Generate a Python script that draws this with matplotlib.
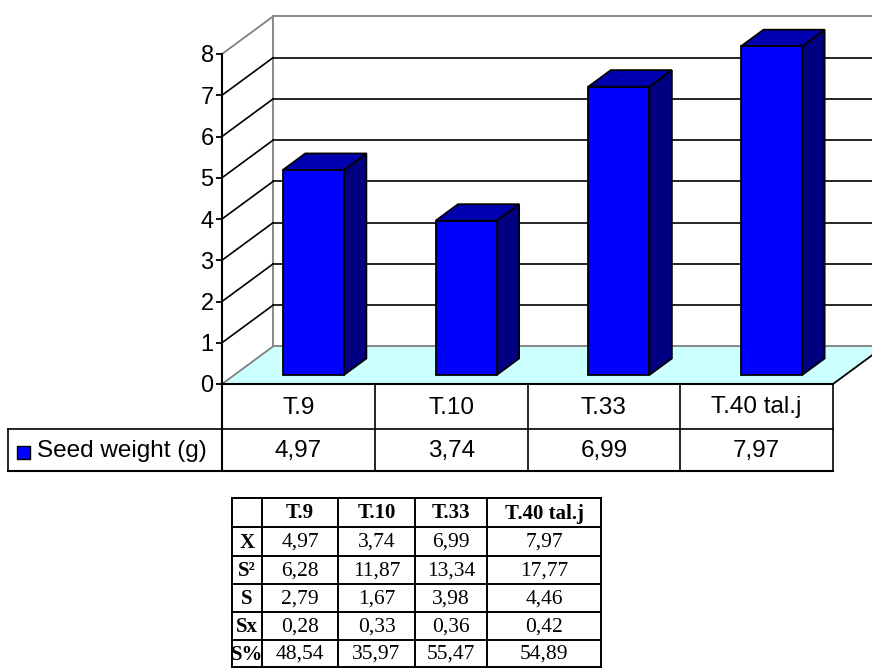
import matplotlib
matplotlib.use("Agg")
import matplotlib.pyplot as plt
from matplotlib.patches import Polygon, Rectangle

# --- data -------------------------------------------------------------
categories = ["T.9", "T.10", "T.33", "T.40 tal.j"]
seed_weight = [4.97, 3.74, 6.99, 7.97]
series_label = "Seed weight (g)"
y_ticks = [0, 1, 2, 3, 4, 5, 6, 7, 8]

stat_rows = ["X", "S²", "S", "Sx", "S%"]
stat_x = [4.97, 3.74, 6.99, 7.97]
stat_s2 = [6.28, 11.87, 13.34, 17.77]
stat_s = [2.79, 1.67, 3.98, 4.46]
stat_sx = [0.28, 0.33, 0.36, 0.42]
stat_spct = [48.54, 35.97, 55.47, 54.89]


def fmt(v):
    return f"{v:.2f}".replace(".", ",")


W, H = 872, 668
fig = plt.figure(figsize=(W / 100, H / 100), dpi=100)
fig.patch.set_facecolor("white")

SANS = "Liberation Sans"
SERIF = "Liberation Serif"
GRAY = "#808080"
FRONT = "#0000ff"
SIDE = "#000080"
TOP = "#0000b0"
SANS_SIZE = 17.5
HEAD_SIZE = 15
CELL_SIZE = 15.5

# front plane of the 3D chart, in pixels
px_left, px_right = 222, 833
px_zero, px_top = 384, 54
ax = fig.add_axes([px_left / W, 1 - px_zero / H,
                   (px_right - px_left) / W, (px_zero - px_top) / H])
ax.set_xlim(0, len(categories))
ax.set_ylim(0, 8)
ax.patch.set_visible(False)
for s in ["top", "right", "bottom"]:
    ax.spines[s].set_visible(False)
ax.spines["left"].set_linewidth(1.5)
ax.set_xticks([])
ax.set_yticks(y_ticks)
ax.set_yticklabels([str(t) for t in y_ticks], fontsize=17, family=SANS)
ax.tick_params(axis="y", direction="out", length=4, width=1.3, pad=2)

n = len(categories)
dxu, dyu = 0.334, 0.91      # depth offset of the back wall (data units)
f1, f2 = 0.24, 0.68         # bar depth range as fraction of floor depth
bx, bw = 0.318, 0.40        # bar offset and width inside a category

# floor
ax.add_patch(Polygon([(0, 0), (n, 0), (n + dxu, dyu), (dxu, dyu)],
                     closed=True, facecolor="#ccffff", edgecolor="none",
                     clip_on=False, zorder=1))
ax.plot([0, dxu], [0, dyu], color=GRAY, lw=1.3, clip_on=False, zorder=2)
ax.plot([dxu, n + dxu], [dyu, dyu], color=GRAY, lw=1.3, clip_on=False, zorder=2)
ax.plot([n, n + dxu], [0, dyu], color="black", lw=1.3, clip_on=False, zorder=2)
ax.plot([0, n], [0, 0], color="black", lw=1.5, clip_on=False, zorder=2)

# back wall and side wall gridlines
ax.plot([dxu, dxu], [dyu, 8 + dyu], color=GRAY, lw=1.3, clip_on=False, zorder=2)
ax.plot([dxu, n + dxu], [8 + dyu, 8 + dyu], color=GRAY, lw=1.3,
        clip_on=False, zorder=2)
ax.plot([0, dxu], [8, 8 + dyu], color=GRAY, lw=1.3, clip_on=False, zorder=2)
for v in y_ticks[1:-1]:
    ax.plot([dxu, n + dxu], [v + dyu, v + dyu], color="black", lw=1.2,
            clip_on=False, zorder=2)
    ax.plot([0, dxu], [v, v + dyu], color="black", lw=1.2,
            clip_on=False, zorder=2)

# bars
ddx, ddy = (f2 - f1) * dxu, (f2 - f1) * dyu
for i, v in enumerate(seed_weight):
    x0 = i + bx + f1 * dxu
    x1 = x0 + bw
    y0 = f1 * dyu
    y1 = y0 + v
    kw = dict(closed=True, edgecolor="black", lw=1.3, clip_on=False,
              joinstyle="miter", zorder=3)
    ax.add_patch(Polygon([(x1, y0), (x1 + ddx, y0 + ddy),
                          (x1 + ddx, y1 + ddy), (x1, y1)],
                         facecolor=SIDE, **kw))
    ax.add_patch(Polygon([(x0, y1), (x1, y1), (x1 + ddx, y1 + ddy),
                          (x0 + ddx, y1 + ddy)], facecolor=TOP, **kw))
    ax.add_patch(Polygon([(x0, y0), (x1, y0), (x1, y1), (x0, y1)],
                         facecolor=FRONT, **kw))

# overlay in pixel coordinates for the tables
ov = fig.add_axes([0, 0, 1, 1])
ov.set_xlim(0, W)
ov.set_ylim(H, 0)
ov.axis("off")
ov.patch.set_visible(False)

# data table under the chart
row1_top, row2_top, row2_bot = 384, 429, 471
col_w = (px_right - px_left) / n
lw_t = 1.5
ov.plot([px_left, px_left], [px_zero, row2_bot], color="black", lw=lw_t)
for i in range(1, n + 1):
    xx = px_left + i * col_w
    ov.plot([xx, xx], [row1_top, row2_bot], color="black", lw=1.2)
ov.plot([8, px_right], [row2_top, row2_top], color="black", lw=1.2)
ov.plot([8, px_right], [row2_bot, row2_bot], color="black", lw=lw_t)
ov.plot([8, 8], [row2_top, row2_bot], color="black", lw=1.2)
for i, (c, v) in enumerate(zip(categories, seed_weight)):
    cx = px_left + (i + 0.5) * col_w
    ov.text(cx, (row1_top + row2_top) / 2 + 1, c, ha="center", va="center",
            fontsize=SANS_SIZE, family=SANS)
    ov.text(cx, (row2_top + row2_bot) / 2 + 1, fmt(v), ha="center",
            va="center", fontsize=SANS_SIZE, family=SANS)
ov.add_patch(Rectangle((17, 446), 13, 13, facecolor=FRONT,
                       edgecolor="black", lw=1.0))
ov.text(37, (row2_top + row2_bot) / 2 + 1, series_label, ha="left",
        va="center", fontsize=SANS_SIZE, family=SANS)

# statistics table
col_edges = [232, 262, 338, 415, 487, 601]
row_edges = [498, 527, 556, 584, 612, 640, 667]
for xx in col_edges:
    ov.plot([xx, xx], [row_edges[0], row_edges[-1]], color="black", lw=1.4)
for yy in row_edges:
    ov.plot([col_edges[0], col_edges[-1]], [yy, yy], color="black", lw=1.4)

for j, c in enumerate(categories):
    cx = (col_edges[j + 1] + col_edges[j + 2]) / 2
    ov.text(cx, (row_edges[0] + row_edges[1]) / 2 + 1, c, ha="center",
            va="center", fontsize=HEAD_SIZE, family=SERIF, weight="bold")

stat_values = [stat_x, stat_s2, stat_s, stat_sx, stat_spct]
for r, (name, vals) in enumerate(zip(stat_rows, stat_values)):
    cy = (row_edges[r + 1] + row_edges[r + 2]) / 2 + 1
    ov.text((col_edges[0] + col_edges[1]) / 2, cy, name, ha="center",
            va="center", fontsize=HEAD_SIZE, family=SERIF, weight="bold")
    for j, v in enumerate(vals):
        cx = (col_edges[j + 1] + col_edges[j + 2]) / 2
        ov.text(cx, cy, fmt(v), ha="center", va="center",
                fontsize=CELL_SIZE, family=SERIF)

fig.savefig("out.png", dpi=100, facecolor="white")
